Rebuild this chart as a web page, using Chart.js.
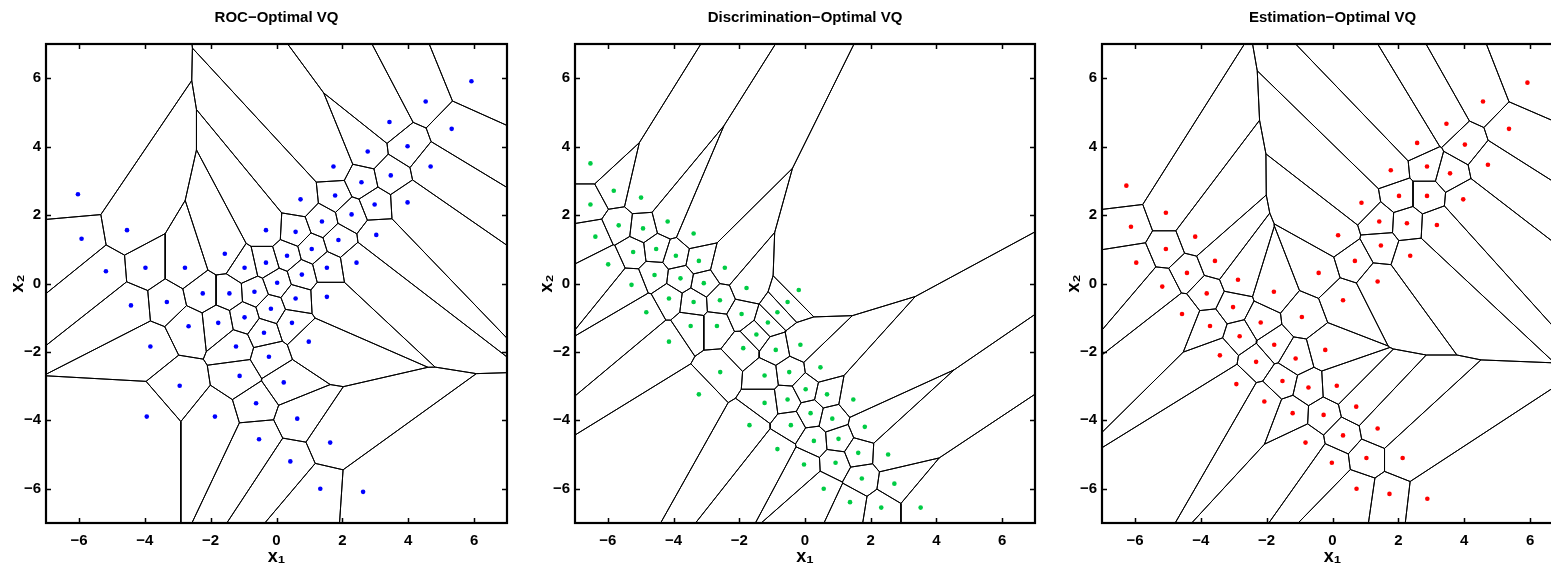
<!DOCTYPE html>
<html>
<head>
<meta charset="utf-8">
<script src="https://cdn.jsdelivr.net/npm/chart.js@4.4.0/dist/chart.umd.min.js"></script>
<style>
html, body { margin: 0; padding: 0; width: 1551px; height: 578px; overflow: hidden; background: #fff; }
.panel { position: absolute; top: 0; height: 578px; }
</style>
</head>
<body>
<div class="panel" style="left:0px"><canvas id="rocChart" width="553" height="578"></canvas></div>
<div class="panel" style="left:529px"><canvas id="discChart" width="552" height="578"></canvas></div>
<div class="panel" style="left:1056px"><canvas id="estChart" width="553" height="578"></canvas></div>
<script>
// tick values shared by all three panels
var tickValues = [-6, -4, -2, 0, 2, 4, 6];

// ROC-optimal codebook (blue)
var rocX = [-6.03, -5.92, -4.54, -5.18, -3.98, -2.78, -1.57, -0.97, -0.32, -0.32, 0.02,
    5.92, 4.53, 5.32, 3.43, 3.98, 2.77, 4.68, 1.73, 3.47, 2.58, 3.98, 0.73, 1.78, 2.98, 2.28,
    1.38, 0.58, 1.88, 3.03, 1.07, 0.32, 1.53, 2.43, 0.77,
    -4.42, -3.33, -2.24, -1.43, -0.67, -2.67, -1.77, -0.97, -0.17, -0.38, -3.83, -1.23, -0.23,
    -2.94, -1.12, -0.62, -3.94, -1.87, -0.53,
    0.58, 1.53, 0.47, 0.98, 0.22, 0.63, 1.63, 0.42, 1.33, 2.63];
var rocY = [2.61, 1.31, 1.56, 0.36, 0.46, 0.46, 0.87, 0.46, 1.56, 0.61, 0.02,
    5.91, 5.32, 4.52, 4.72, 4.01, 3.86, 3.42, 3.42, 3.16, 2.96, 2.37, 2.46, 2.57, 2.31, 2.02,
    1.81, 1.51, 1.27, 1.42, 1.01, 0.81, 0.46, 0.61, 0.26,
    -0.64, -0.54, -0.29, -0.29, -0.24, -1.25, -1.15, -0.99, -0.74, -1.44, -1.84, -1.84, -2.14,
    -2.99, -2.70, -3.50, -3.89, -3.89, -4.55,
    -0.44, -0.39, -1.15, -1.70, -2.89, -3.95, -4.65, -5.20, -6.00, -6.09];

// Discrimination-optimal codebook (green)
var discX = [-6.53, -5.82, -4.99, -6.53, -5.67, -4.93, -4.18, -6.38, -3.39, -5.23, -4.53, -3.93,
    -3.23, -5.99, -2.44, -4.58, -3.79, -3.08, -5.28, -1.78, -0.19, -4.14, -3.39, -2.59, -0.53,
    -4.83, -1.93, -0.84, -1.13, -3.48, -2.68, -1.48, -4.14, -1.88, -0.89, -0.14, -2.58, -1.23,
    -0.48, -3.23, -1.23, -0.53, -1.69, -0.43, -0.84, -0.03,
    0.47, 0.02, 0.67, 1.47, 0.17, 0.83, 1.82, 0.27, 1.02, 1.62, 2.53, 0.93, 1.73, 2.72, 0.57,
    1.37, 2.32, 3.52];
var discY = [3.51, 2.71, 2.51, 2.31, 1.70, 1.61, 1.81, 1.37, 1.46, 0.92, 1.01, 0.81,
    0.66, 0.56, 0.46, 0.25, 0.15, 0.01, -0.04, -0.13, -0.19, -0.44, -0.54, -0.49, -0.54,
    -0.84, -0.89, -0.84, -1.14, -1.24, -1.24, -1.49, -1.70, -1.89, -1.94, -1.79, -2.59, -2.69,
    -2.59, -3.24, -3.49, -3.39, -4.14, -4.14, -4.84, -5.29,
    -2.45, -3.09, -3.24, -3.39, -3.79, -3.95, -4.19, -4.60, -4.54, -4.95, -5.00, -5.24, -5.70,
    -5.85, -6.00, -6.39, -6.55, -6.55];

// Estimation-optimal codebook (red)
var estX = [-6.26, -5.06, -6.12, -4.17, -5.06, -5.96, -3.57, -4.42, -2.87, -5.17,
    5.92, 4.57, 5.36, 3.46, 4.02, 2.57, 4.72, 2.87, 3.57, 1.77, 2.02, 2.87, 3.97, 0.88, 1.42,
    2.26, 3.17, 0.17, 1.47, 0.68, 2.36, -0.42, 1.37,
    -3.82, -1.78, -4.57, -3.02, -0.93, -3.72, -2.18, -2.82, -1.77, -3.42, -2.32, -1.12, -1.52,
    -0.73, -2.92, -2.07, -1.21, -0.82,
    0.32, -0.22, 0.13, 0.72, -0.27, 1.37, 0.32, 1.03, 2.13, -0.02, 0.73, 1.73, 2.88];
var estY = [2.86, 2.07, 1.66, 1.37, 1.01, 0.61, 0.66, 0.31, 0.11, -0.09,
    5.87, 5.32, 4.52, 4.67, 4.06, 4.11, 3.47, 3.42, 3.22, 3.31, 2.56, 2.56, 2.46, 2.36, 1.81,
    1.76, 1.71, 1.41, 1.11, 0.66, 0.81, 0.31, 0.06,
    -0.29, -0.24, -0.89, -0.69, -0.98, -1.24, -1.14, -1.54, -1.79, -2.10, -2.29, -2.19, -2.85,
    -3.04, -2.94, -3.45, -3.79, -4.65,
    -0.49, -1.94, -2.99, -3.60, -3.84, -4.24, -4.44, -5.10, -5.10, -5.24, -6.00, -6.15, -6.29];

// clip a polygon to the half-plane nx*x + ny*y <= c
function clipHalfPlane(poly, nx, ny, c) {
    var res = [];
    for (var k = 0; k < poly.length; k++) {
        var a = poly[k], b = poly[(k + 1) % poly.length];
        var da = nx * a[0] + ny * a[1] - c;
        var db = nx * b[0] + ny * b[1] - c;
        if (da <= 0) res.push(a);
        if ((da < 0 && db > 0) || (da > 0 && db < 0)) {
            var t = da / (da - db);
            res.push([a[0] + t * (b[0] - a[0]), a[1] + t * (b[1] - a[1])]);
        }
    }
    return res;
}

// cell boundaries (nearest-neighbour regions) of the codebook, as one broken line
function cellEdges(xs, ys) {
    var out = [];
    for (var i = 0; i < xs.length; i++) {
        var poly = [[-8, -8], [8, -8], [8, 8], [-8, 8]];
        for (var j = 0; j < xs.length && poly.length; j++) {
            if (j === i) continue;
            var nx = xs[j] - xs[i], ny = ys[j] - ys[i];
            var c = (xs[j] * xs[j] + ys[j] * ys[j] - xs[i] * xs[i] - ys[i] * ys[i]) / 2;
            poly = clipHalfPlane(poly, nx, ny, c);
        }
        if (!poly.length) continue;
        poly.forEach(function (p) { out.push({ x: p[0], y: p[1] }); });
        out.push({ x: poly[0][0], y: poly[0][1] });
        out.push({ x: NaN, y: NaN });
    }
    return out;
}

function toPoints(xs, ys) {
    return xs.map(function (x, i) { return { x: x, y: ys[i] }; });
}

var fontFamily = "'Liberation Sans', Arial, Helvetica, sans-serif";

function tickLabel(v) {
    return v < 0 ? '\u2212' + Math.abs(v) : String(v);
}

// box round the plot with the ticks pointing inwards
var frame = {
    id: 'frame',
    afterDraw: function (chart) {
        var ctx = chart.ctx, a = chart.chartArea;
        var sx = chart.scales.x, sy = chart.scales.y;
        ctx.save();
        ctx.strokeStyle = '#000';
        ctx.lineWidth = 1.5;
        ctx.beginPath();
        tickValues.forEach(function (v) {
            var px = Math.round(sx.getPixelForValue(v)) + 0.5;
            ctx.moveTo(px, a.bottom); ctx.lineTo(px, a.bottom - 5);
            ctx.moveTo(px, a.top); ctx.lineTo(px, a.top + 5);
            var py = Math.round(sy.getPixelForValue(v)) + 0.5;
            ctx.moveTo(a.left, py); ctx.lineTo(a.left + 5, py);
            ctx.moveTo(a.right, py); ctx.lineTo(a.right - 5, py);
        });
        ctx.stroke();
        ctx.lineWidth = 2.2;
        ctx.strokeRect(a.left, a.top, a.right - a.left, a.bottom - a.top);
        ctx.restore();
    }
};

function makeChart(id, title, xs, ys, color) {
    var ctx = document.getElementById(id).getContext('2d');
    return new Chart(ctx, {
        type: 'scatter',
        data: {
            datasets: [{
                data: toPoints(xs, ys),
                backgroundColor: color,
                borderWidth: 0,
                pointRadius: 2.3
            }, {
                data: cellEdges(xs, ys),
                showLine: true,
                spanGaps: false,
                borderColor: '#000',
                borderWidth: 1,
                pointRadius: 0
            }]
        },
        options: {
            responsive: false,
            animation: false,
            events: [],
            layout: { padding: 0 },
            plugins: {
                legend: { display: false },
                tooltip: { enabled: false },
                title: {
                    display: true,
                    text: title,
                    color: '#000',
                    font: { family: fontFamily, size: 15, weight: 'bold' },
                    padding: { top: 9, bottom: 17 }
                }
            },
            scales: {
                x: {
                    type: 'linear', min: -7, max: 7,
                    afterBuildTicks: function (s) { s.ticks = tickValues.map(function (v) { return { value: v }; }); },
                    afterFit: function (s) { s.height = 55; },
                    grid: { display: false, drawTicks: false },
                    border: { display: false },
                    ticks: {
                        color: '#000', padding: 9, maxRotation: 0,
                        font: { family: fontFamily, size: 15, weight: 'bold' },
                        callback: tickLabel
                    },
                    title: {
                        display: true, text: 'x\u2081', color: '#000',
                        font: { family: fontFamily, size: 18, weight: 'bold' },
                        padding: { top: 0, bottom: 10 }
                    }
                },
                y: {
                    type: 'linear', min: -7, max: 7,
                    afterBuildTicks: function (s) { s.ticks = tickValues.map(function (v) { return { value: v }; }); },
                    afterFit: function (s) { s.width = 46; },
                    grid: { display: false, drawTicks: false },
                    border: { display: false },
                    ticks: {
                        color: '#000', padding: 5,
                        font: { family: fontFamily, size: 15, weight: 'bold' },
                        callback: tickLabel
                    },
                    title: {
                        display: true, text: 'x\u2082', color: '#000',
                        font: { family: fontFamily, size: 18, weight: 'bold' },
                        padding: { top: 7, bottom: 0 }
                    }
                },
                // empty axis on the right so the title sits over the plot centre
                yr: {
                    type: 'linear', position: 'right', min: -7, max: 7,
                    afterFit: function (s) { s.width = 46; },
                    grid: { display: false, drawTicks: false },
                    border: { display: false },
                    ticks: { display: false }
                }
            }
        },
        plugins: [frame]
    });
}

makeChart('rocChart', 'ROC\u2212Optimal VQ', rocX, rocY, '#0000ff');
makeChart('discChart', 'Discrimination\u2212Optimal VQ', discX, discY, 'rgb(0,204,68)');
makeChart('estChart', 'Estimation\u2212Optimal VQ', estX, estY, '#ff0000');
</script>
</body>
</html>
